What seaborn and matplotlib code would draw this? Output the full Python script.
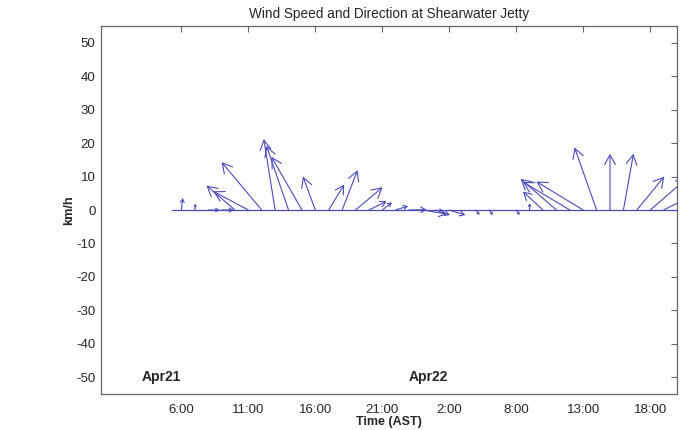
import numpy as np
import pandas as pd
import seaborn as sns
import matplotlib
matplotlib.use("Agg")
import matplotlib.pyplot as plt

# Hourly wind vectors (hours since Apr21 00:00, east/north components in km/h)
hours = [6, 7, 8, 9, 10, 11, 12, 13, 14, 15, 16, 17, 18, 19, 20, 21, 22, 23,
         24, 25, 26, 27, 28, 29, 30, 31, 32, 33, 34, 35, 36, 37, 38, 39, 40, 41, 42]
u_kmh = [0.4, 0.2, 3.5, 3.6, -8.5, -10.5, -12.0, -3.4, -6.6, -9.1, -3.7, 4.6,
         4.6, 8.1, 5.3, 2.9, 3.7, 5.2, 7.3, 4.2, 4.8, 0.0, 1.0, 1.0, 0.0, 1.0,
         0.0, -6.0, -10.7, -14.0, -14.0, -6.6, 0.0, 3.0, 8.2, 11.0, 10.0]
v_kmh = [3.6, 1.9, 0.0, 0.0, 7.3, 5.6, 14.3, 21.2, 19.2, 15.9, 10.0, 7.6,
         11.9, 6.8, 2.6, 2.3, 1.2, 0.1, -1.2, -1.5, -1.5, 0.0, -1.5, -1.5, 0.0,
         -1.5, 2.0, 5.5, 9.3, 8.4, 8.5, 18.7, 16.8, 16.8, 10.0, 9.5, 5.0]

baseline_hours = [5.3, 43.0]
tick_hours = [6, 11, 16, 21, 26, 31, 36, 41]
tick_labels = ["6:00", "11:00", "16:00", "21:00", "2:00", "8:00", "13:00", "18:00"]
day_labels = ["Apr21", "Apr22"]
day_hours = [3, 23]

sns.set_style("white")
plt.rcParams["font.family"] = ["Liberation Sans", "DejaVu Sans"]
plt.rcParams["axes.unicode_minus"] = False

fig = plt.figure(figsize=(6.83, 4.30), dpi=100)
ax = fig.add_axes([0.1479, 0.0837, 0.8433, 0.8558])

xlim = (0, 43)
ylim = (-55, 55)
ax.set_xlim(*xlim)
ax.set_ylim(*ylim)

color = "#4a4abb"
base = pd.DataFrame({"t": baseline_hours, "y": [0, 0]})
sns.lineplot(data=base, x="t", y="y", ax=ax, color=color, linewidth=0.9)

# keep arrows isotropic on screen: convert km/h to hours along x
bbox = ax.get_position()
w_px = bbox.width * fig.get_figwidth()
h_px = bbox.height * fig.get_figheight()
k = (h_px / (ylim[1] - ylim[0])) / (w_px / (xlim[1] - xlim[0]))

for t, u, v in zip(hours, u_kmh, v_kmh):
    if u == 0 and v == 0:
        continue
    L = np.hypot(u, v) * 3.35 * 0.72  # length in points
    hl = min(0.22 * L, 5.5)
    a = ax.annotate("", xy=(t + u * k, v), xytext=(t, 0), annotation_clip=False,
                    arrowprops=dict(arrowstyle=f"->,head_length={hl/8:.2f},head_width={hl/14:.2f}",
                                    color=color, lw=0.8, shrinkA=0, shrinkB=0))
    a.arrow_patch.set_clip_box(ax.bbox)

ax.set_yticks(range(-50, 51, 10))
ax.set_xticks(tick_hours)
ax.set_xticklabels(tick_labels)
ax.tick_params(direction="in", length=4, width=0.8, color="#666666",
               labelsize=9.5, top=True, right=True, pad=4)
ax.tick_params(axis="x", pad=7)
for s in ax.spines.values():
    s.set_color("#666666")
    s.set_linewidth(0.9)

for lab, h in zip(day_labels, day_hours):
    ax.text(h, -50, lab, fontsize=10, fontweight="bold", ha="left", va="center")

ax.set_title("Wind Speed and Direction at Shearwater Jetty", fontsize=9.8, pad=6)
ax.set_xlabel("Time (AST)", fontsize=9, fontweight="bold", labelpad=0)
ax.set_ylabel("km/h", fontsize=9.2, fontweight="bold", labelpad=1)

fig.savefig("out.png", dpi=100)
